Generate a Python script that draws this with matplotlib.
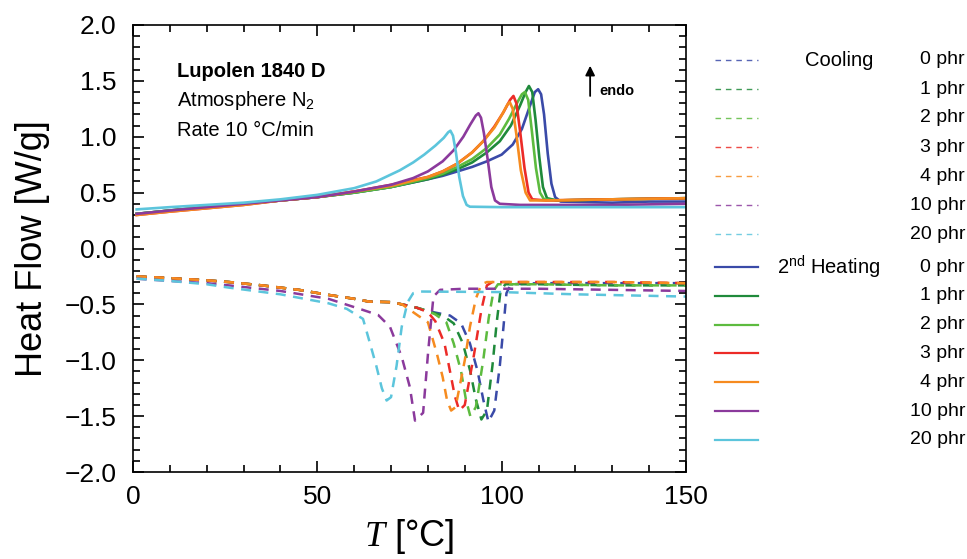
import matplotlib
matplotlib.use("Agg")
import matplotlib.pyplot as plt
from matplotlib.lines import Line2D
from matplotlib.ticker import MultipleLocator

plt.rcParams['font.family'] = ['Liberation Sans', 'DejaVu Sans']
plt.rcParams['mathtext.fontset'] = 'custom'
plt.rcParams['mathtext.rm'] = 'Liberation Sans'
plt.rcParams['mathtext.it'] = 'Liberation Serif:italic'
plt.rcParams['mathtext.default'] = 'regular'

# filler content (phr) and colours
phr_labels = ['0 phr', '1 phr', '2 phr', '3 phr', '4 phr', '10 phr', '20 phr']
colors = ['#3a4aa8', '#1f8a3b', '#5dbb3f', '#ec2b27', '#f68b1f', '#8b3a9c', '#5cc5dc']

# ---- 2nd heating curves ----
heat_T = [
    [1, 10, 20, 30, 40, 50, 60, 70, 80, 84, 88, 92, 96, 100, 103, 105.5, 107.5, 109, 109.9, 110.7, 111.5, 112.5, 113.5, 114.5, 116, 130, 140, 150],
    [1, 10, 20, 30, 40, 50, 60, 70, 80, 84, 88, 92, 96, 99.5, 102.5, 105, 106.5, 107.4, 108.3, 109.2, 110.2, 111.2, 112.3, 115, 130, 150],
    [1, 10, 20, 30, 40, 50, 60, 70, 80, 84, 88, 92, 96, 99.5, 102, 104.3, 105.5, 106.3, 107.2, 108.2, 109.3, 110.4, 111.5, 115, 130, 150],
    [1, 10, 20, 30, 40, 50, 60, 70, 80, 84, 88, 92, 95, 98, 100.5, 102.3, 103.2, 104, 105, 106.2, 107.3, 108.3, 112, 130, 150],
    [1, 10, 20, 30, 40, 50, 60, 70, 80, 84, 88, 92, 95, 98, 100.3, 101.6, 102.2, 103, 104, 105.2, 106.5, 107.7, 112, 130, 150],
    [1, 10, 20, 30, 40, 50, 60, 70, 76, 80, 84, 87, 89.6, 91.5, 93, 93.7, 94.4, 95.2, 96.2, 97.2, 98.2, 99.5, 105, 130, 150],
    [1, 10, 20, 30, 40, 50, 60, 66, 72.4, 76, 79, 82, 84.3, 85.5, 86.1, 86.8, 87.6, 88.5, 89.5, 90.5, 91.4, 100, 130, 150],
]
heat_H = [
    [0.31, 0.34, 0.37, 0.40, 0.43, 0.46, 0.50, 0.55, 0.62, 0.65, 0.69, 0.73, 0.78, 0.84, 0.93, 1.07, 1.26, 1.40, 1.425, 1.38, 1.20, 0.85, 0.58, 0.46, 0.42, 0.41, 0.42, 0.42],
    [0.31, 0.34, 0.37, 0.40, 0.43, 0.46, 0.50, 0.55, 0.62, 0.66, 0.71, 0.77, 0.86, 0.96, 1.10, 1.28, 1.40, 1.454, 1.40, 1.15, 0.82, 0.55, 0.45, 0.43, 0.44, 0.45],
    [0.31, 0.34, 0.37, 0.40, 0.43, 0.46, 0.50, 0.55, 0.63, 0.67, 0.73, 0.80, 0.90, 1.02, 1.16, 1.31, 1.38, 1.40, 1.33, 1.05, 0.72, 0.50, 0.44, 0.43, 0.44, 0.45],
    [0.30, 0.33, 0.36, 0.39, 0.43, 0.46, 0.51, 0.57, 0.64, 0.69, 0.76, 0.86, 0.96, 1.09, 1.22, 1.33, 1.365, 1.30, 1.05, 0.72, 0.50, 0.44, 0.43, 0.44, 0.45],
    [0.30, 0.33, 0.36, 0.39, 0.43, 0.46, 0.51, 0.56, 0.64, 0.69, 0.76, 0.86, 0.96, 1.08, 1.21, 1.29, 1.31, 1.25, 1.02, 0.70, 0.50, 0.43, 0.43, 0.44, 0.45],
    [0.31, 0.34, 0.37, 0.40, 0.43, 0.46, 0.51, 0.57, 0.63, 0.69, 0.78, 0.88, 1.00, 1.11, 1.19, 1.21, 1.17, 1.03, 0.80, 0.55, 0.43, 0.40, 0.39, 0.39, 0.40],
    [0.35, 0.37, 0.39, 0.41, 0.44, 0.48, 0.54, 0.60, 0.70, 0.77, 0.84, 0.92, 0.99, 1.04, 1.054, 1.01, 0.86, 0.64, 0.47, 0.39, 0.374, 0.37, 0.37, 0.37],
]

# ---- cooling curves ----
cool_T = [
    [1, 10, 20, 26, 35, 45, 53, 60, 64, 70, 73, 77, 80, 86, 89, 91.4, 93.5, 95, 96.4, 98, 99.5, 100.5, 101.3, 102.5, 110, 130, 150],
    [1, 10, 20, 26, 35, 45, 53, 60, 64, 70, 73, 77, 80, 84, 87, 89.5, 91.5, 93, 94.5, 96, 97.5, 98.7, 99.7, 101, 110, 130, 150],
    [1, 10, 20, 26, 35, 45, 53, 60, 64, 70, 73, 77, 80, 82, 85, 87, 89, 90.3, 91.5, 93, 95, 96.5, 97.8, 99, 110, 130, 150],
    [1, 10, 20, 26, 35, 45, 53, 60, 64, 70, 73, 77, 80, 82, 84.5, 86, 87.3, 88.5, 90, 92.5, 94.5, 96, 97.5, 110, 130, 150],
    [1, 10, 20, 26, 35, 45, 53, 60, 64, 70, 73, 77.3, 80, 82.5, 84, 85.2, 86.3, 87.5, 90, 91.4, 93, 94.5, 96, 110, 130, 150],
    [1, 10, 20, 26, 40, 53, 62.4, 66.5, 69.7, 72.9, 75.1, 76.5, 78.7, 80.1, 81.5, 83.3, 90, 110, 130, 150],
    [1, 10, 20, 26, 40, 53, 58, 62.4, 64.3, 66, 67.5, 68.8, 70, 71.5, 72.9, 74.5, 76, 78, 100, 120, 150],
]
cool_H = [
    [-0.25, -0.265, -0.285, -0.30, -0.33, -0.37, -0.415, -0.45, -0.475, -0.48, -0.50, -0.53, -0.56, -0.60, -0.67, -0.85, -1.10, -1.35, -1.55, -1.45, -1.05, -0.70, -0.40, -0.32, -0.31, -0.31, -0.31],
    [-0.25, -0.265, -0.285, -0.30, -0.33, -0.37, -0.415, -0.45, -0.475, -0.48, -0.50, -0.53, -0.56, -0.60, -0.67, -0.85, -1.10, -1.35, -1.53, -1.45, -1.05, -0.65, -0.38, -0.32, -0.32, -0.33, -0.33],
    [-0.25, -0.265, -0.285, -0.30, -0.33, -0.37, -0.415, -0.45, -0.475, -0.48, -0.50, -0.53, -0.56, -0.59, -0.66, -0.85, -1.10, -1.35, -1.50, -1.42, -1.00, -0.62, -0.38, -0.32, -0.32, -0.33, -0.33],
    [-0.25, -0.265, -0.285, -0.30, -0.33, -0.37, -0.415, -0.45, -0.475, -0.48, -0.50, -0.53, -0.57, -0.65, -0.85, -1.10, -1.32, -1.45, -1.40, -0.95, -0.55, -0.33, -0.30, -0.30, -0.30, -0.31],
    [-0.25, -0.265, -0.285, -0.30, -0.33, -0.37, -0.415, -0.45, -0.475, -0.48, -0.50, -0.60, -0.66, -0.95, -1.15, -1.36, -1.45, -1.42, -1.00, -0.70, -0.45, -0.32, -0.30, -0.30, -0.30, -0.31],
    [-0.27, -0.29, -0.31, -0.33, -0.38, -0.45, -0.55, -0.595, -0.70, -0.97, -1.24, -1.54, -1.47, -0.91, -0.43, -0.37, -0.36, -0.36, -0.37, -0.38],
    [-0.27, -0.29, -0.32, -0.35, -0.41, -0.49, -0.54, -0.63, -0.85, -1.05, -1.25, -1.36, -1.33, -1.05, -0.70, -0.48, -0.40, -0.385, -0.39, -0.41, -0.43],
]

fig = plt.figure(figsize=(9.67, 5.59), dpi=100)
ax = fig.add_axes([0.1375, 0.1556, 0.5719, 0.7997])

for i in range(len(phr_labels)):
    ax.plot(cool_T[i], cool_H[i], color=colors[i], lw=1.8, dashes=(4, 3))
for i in range(len(phr_labels)):
    ax.plot(heat_T[i], heat_H[i], color=colors[i], lw=1.9)

ax.set_xlim(0, 150)
ax.set_ylim(-2.0, 2.0)
ax.xaxis.set_major_locator(MultipleLocator(50))
ax.xaxis.set_minor_locator(MultipleLocator(10))
ax.yaxis.set_major_locator(MultipleLocator(0.5))
ax.yaxis.set_minor_locator(MultipleLocator(0.1))
ax.yaxis.set_major_formatter(plt.FuncFormatter(lambda v, p: f"{v:.1f}".replace('-', '\u2212')))
ax.tick_params(which='both', direction='in', top=True, right=True, width=1.2)
ax.tick_params(which='major', length=8, labelsize=19)
ax.tick_params(axis='y', which='major', pad=12)
ax.tick_params(axis='x', which='major', pad=9)
ax.tick_params(which='minor', length=5)
for s in ax.spines.values():
    s.set_linewidth(1.2)

ax.set_ylabel('Heat Flow [W/g]', fontsize=26, labelpad=10)
ax.set_xlabel(r'$\mathit{T}$ [°C]', fontsize=26, labelpad=6)

ax.text(11.9, 1.58, 'Lupolen 1840 D', fontsize=14.5, fontweight='bold', va='center')
ax.text(11.9, 1.32, 'Atmosphere N$_2$', fontsize=14.5, va='center')
ax.text(11.9, 1.06, 'Rate 10 °C/min', fontsize=14.5, va='center')
ax.annotate('', xy=(124, 1.66), xytext=(124, 1.34),
            arrowprops=dict(arrowstyle='-|>', color='black', lw=1.3, mutation_scale=14))
ax.text(126.5, 1.35, 'endo', fontsize=10.5, fontweight='bold', va='bottom')

# legend drawn by hand in figure pixels
W, H = 967, 559
def fx(px):
    return px / W
def fy(py):
    return 1 - py / H

cool_rows = [60 + 29 * i for i in range(7)]
heat_rows = [267 + 28.8 * i for i in range(7)]
for i in range(7):
    fig.add_artist(Line2D([fx(715), fx(758)], [fy(cool_rows[i])] * 2, color=colors[i],
                          lw=1.0, dashes=(4, 3.5), alpha=0.85))
    fig.text(fx(965), fy(cool_rows[i]), phr_labels[i], fontsize=14, ha='right', va='center')
    fig.add_artist(Line2D([fx(715), fx(758)], [fy(heat_rows[i])] * 2, color=colors[i], lw=1.6))
    fig.text(fx(965), fy(heat_rows[i]), phr_labels[i], fontsize=14, ha='right', va='center')
fig.text(fx(873), fy(cool_rows[0]), 'Cooling', fontsize=14.5, ha='right', va='center')
fig.text(fx(880), fy(heat_rows[0]), '2$^{nd}$ Heating', fontsize=14.5, ha='right', va='center')

fig.savefig('out.png', dpi=100)
